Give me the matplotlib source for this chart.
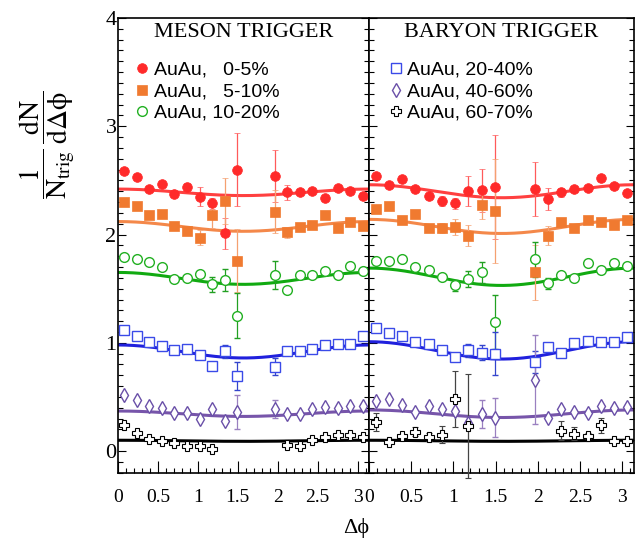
import numpy as np
import matplotlib.pyplot as plt
from matplotlib.ticker import MultipleLocator, FormatStrFormatter

plt.rcParams['font.family'] = ['Liberation Serif', 'DejaVu Serif']
plt.rcParams['mathtext.fontset'] = 'stix'

nan = np.nan

# delta-phi bin centres (20 bins on 0..pi)
dphi = [0.079, 0.236, 0.393, 0.550, 0.707, 0.864, 1.021, 1.178, 1.335, 1.492,
        1.649, 1.806, 1.963, 2.120, 2.277, 2.434, 2.592, 2.749, 2.906, 3.063]

labels = ['AuAu,   0-5%', 'AuAu,   5-10%', 'AuAu, 10-20%',
          'AuAu, 20-40%', 'AuAu, 40-60%', 'AuAu, 60-70%']

# ---- meson trigger ----
m_c0 = [2.59, 2.53, 2.42, 2.47, 2.37, 2.44, 2.35, 2.29, 2.01, 2.60, nan, nan, 2.54, 2.39, 2.39, 2.40, 2.34, 2.43, 2.40, 2.36]
m_c0_err = [0, 0, 0, 0, 0, 0.04, 0.09, 0.05, 0.14, 0.34, 0, 0, 0.24, 0.07, 0, 0, 0, 0, 0, 0]
m_c1 = [2.30, 2.26, 2.18, 2.19, 2.08, 2.03, 1.97, 2.18, 2.31, 1.76, nan, nan, 2.21, 2.02, 2.07, 2.09, 2.18, 2.06, 2.12, 2.08]
m_c1_err = [0, 0, 0, 0, 0, 0, 0.07, 0.12, 0.21, 0.29, 0, 0, 0.20, 0.05, 0, 0, 0, 0, 0, 0]
m_c2 = [1.79, 1.77, 1.75, 1.70, 1.59, 1.60, 1.64, 1.54, 1.58, 1.25, nan, nan, 1.63, 1.49, 1.63, 1.63, 1.66, 1.63, 1.71, 1.66]
m_c2_err = [0, 0, 0, 0, 0, 0, 0, 0.07, 0.10, 0.21, 0, 0, 0.13, 0, 0, 0, 0, 0, 0, 0]
m_c3 = [1.12, 1.06, 1.01, 0.97, 0.93, 0.94, 0.89, 0.79, 0.92, 0.69, nan, nan, 0.78, 0.92, 0.92, 0.94, 0.98, 0.99, 0.99, 1.06]
m_c3_err = [0, 0, 0, 0, 0, 0, 0, 0, 0.06, 0.13, 0, 0, 0.08, 0, 0, 0, 0, 0, 0, 0]
m_c4 = [0.52, 0.47, 0.42, 0.40, 0.35, 0.35, 0.30, 0.39, 0.28, 0.36, nan, nan, 0.39, 0.34, 0.34, 0.39, 0.41, 0.40, 0.42, 0.42]
m_c4_err = [0, 0, 0, 0, 0, 0, 0, 0, 0, 0.16, 0, 0, 0.08, 0, 0, 0, 0, 0, 0, 0]
m_c5 = [0.24, 0.17, 0.11, 0.09, 0.07, 0.05, 0.05, 0.02, nan, nan, nan, nan, nan, 0.06, 0.05, 0.10, 0.13, 0.15, 0.15, 0.13]
m_c5_err = [0] * 20

# ---- baryon trigger ----
b_c0 = [2.54, 2.46, 2.51, 2.42, 2.36, 2.31, 2.29, 2.40, 2.41, 2.44, nan, nan, 2.42, 2.33, 2.39, 2.42, 2.43, 2.52, 2.45, 2.38]
b_c0_err = [0, 0, 0, 0, 0, 0.05, 0.05, 0.14, 0.20, 0.48, 0, 0, 0.25, 0.10, 0.04, 0.03, 0, 0, 0, 0]
b_c1 = [2.24, 2.26, 2.13, 2.19, 2.06, 2.06, 2.07, 1.99, 2.27, 2.22, nan, nan, 1.65, 1.99, 2.12, 2.06, 2.13, 2.12, 2.09, 2.13]
b_c1_err = [0, 0, 0, 0, 0, 0.05, 0.07, 0.10, 0.13, 0.48, 0, 0, 0.25, 0.09, 0.03, 0.03, 0, 0, 0, 0]
b_c2 = [1.76, 1.76, 1.77, 1.70, 1.67, 1.61, 1.53, 1.59, 1.65, 1.19, nan, nan, 1.77, 1.55, 1.63, 1.60, 1.74, 1.67, 1.74, 1.71]
b_c2_err = [0, 0, 0, 0, 0, 0, 0.05, 0.07, 0.10, 0.25, 0, 0, 0.16, 0.05, 0, 0, 0, 0, 0, 0]
b_c3 = [1.14, 1.09, 1.06, 1.01, 0.99, 0.93, 0.87, 0.93, 0.91, 0.90, nan, nan, 0.82, 0.96, 0.91, 1.00, 1.02, 1.01, 1.01, 1.05]
b_c3_err = [0, 0, 0, 0, 0, 0, 0, 0.06, 0.07, 0.20, 0, 0, 0.10, 0, 0, 0, 0, 0, 0, 0]
b_c4 = [0.46, 0.48, 0.43, 0.36, 0.42, 0.39, 0.37, 0.26, 0.34, 0.31, nan, nan, 0.66, 0.31, 0.39, 0.36, 0.35, 0.42, 0.40, 0.41]
b_c4_err = [0, 0, 0, 0, 0, 0, 0, 0, 0.13, 0.18, 0, 0, 0.41, 0, 0, 0, 0, 0, 0, 0]
b_c5 = [0.27, 0.08, 0.14, 0.18, 0.13, 0.15, 0.48, 0.23, nan, nan, nan, nan, nan, nan, 0.19, 0.16, 0.14, 0.24, 0.09, 0.09]
b_c5_err = [0.08, 0, 0, 0.04, 0.04, 0.08, 0.26, 0.48, 0, 0, 0, 0, 0, 0, 0.09, 0.06, 0.03, 0.07, 0, 0]

# fit curves: value at dphi=0 (and pi) and at dphi=pi/2
m_fit_0 = [2.42, 2.12, 1.65, 0.98, 0.37, 0.10]
m_fit_90 = [2.36, 2.03, 1.54, 0.86, 0.32, 0.09]
b_fit_0 = [2.46, 2.14, 1.69, 1.01, 0.38, 0.10]
b_fit_90 = [2.34, 2.01, 1.53, 0.85, 0.31, 0.09]

# styles
mk = ['o', 's', 'o', 's', 'd', 'P']
ms = [7, 6.5, 7, 7.5, 7.5, 7.5]
mcol = ['#ff2a2a', '#f07a30', '#22b022', '#3a4ae8', '#6a50a8', '#000000']
filled = [True, True, False, False, False, False]
mews = [0.5, 0.5, 1.0, 1.0, 1.0, 0.8]
ecol = ['#ff5a5a', '#f5a070', '#22a022', '#3344cc', '#9a80c0', '#444444']
lcol = ['#ff4040', '#f4884a', '#11aa11', '#2020dd', '#7755aa', '#000000']

fig = plt.figure(figsize=(6.37, 5.46), dpi=100)
axL = fig.add_axes([0.1852, 0.1342, 0.3940, 0.8328])
axR = fig.add_axes([0.5793, 0.1342, 0.4160, 0.8328])

xf = np.linspace(0, np.pi, 200)

panels = [
    (axL, [m_c0, m_c1, m_c2, m_c3, m_c4, m_c5],
     [m_c0_err, m_c1_err, m_c2_err, m_c3_err, m_c4_err, m_c5_err],
     m_fit_0, m_fit_90, 'MESON TRIGGER', [0, 1, 2], 0.072),
    (axR, [b_c0, b_c1, b_c2, b_c3, b_c4, b_c5],
     [b_c0_err, b_c1_err, b_c2_err, b_c3_err, b_c4_err, b_c5_err],
     b_fit_0, b_fit_90, 'BARYON TRIGGER', [3, 4, 5], 0.079),
]

for ax, ys, errs, f0, f90, title, leg_idx, leg_x in panels:
    handles = []
    for i in range(6):
        c = (f0[i] + f90[i]) / 2
        a = (f0[i] - f90[i]) / 2
        ax.plot(xf, c + a * np.cos(2 * xf), color=lcol[i], lw=2.2, zorder=2)
        err = np.array(errs[i], dtype=float)
        err = np.where(err > 0, err, np.nan)
        cont = ax.errorbar(dphi, ys[i], yerr=err, fmt=mk[i], ms=ms[i],
                           mfc=mcol[i] if filled[i] else 'white',
                           mec=mcol[i], mew=mews[i],
                           ecolor=ecol[i], elinewidth=0.9, capsize=2.2,
                           capthick=0.9, zorder=3, clip_on=False)
        handles.append(cont[0])
    # legend for this panel's three series
    hs = [handles[i] for i in leg_idx]
    ls = [labels[i] for i in leg_idx]
    ax.legend(hs, ls, loc='upper left', bbox_to_anchor=(leg_x, 0.905),
              frameon=False, handlelength=0.6, handletextpad=0.3,
              borderpad=0, borderaxespad=0, labelspacing=0.2,
              prop={'family': 'Liberation Sans', 'size': 14})
    ax.text(0.5, 0.968, title, transform=ax.transAxes, ha='center',
            va='center', fontsize=16)

    ax.set_xlim(0, np.pi)
    ax.set_ylim(-0.2, 4)
    ax.xaxis.set_major_locator(MultipleLocator(0.5))
    ax.xaxis.set_minor_locator(MultipleLocator(0.1))
    ax.xaxis.set_major_formatter(FormatStrFormatter('%g'))
    ax.yaxis.set_major_locator(MultipleLocator(1))
    ax.yaxis.set_minor_locator(MultipleLocator(0.1))
    ax.tick_params(which='both', direction='in', left=True, right=True,
                   top=False, bottom=True)
    ax.tick_params(axis='x', which='major', length=9, width=0.8,
                   labelsize=14, pad=12)
    ax.tick_params(axis='x', which='minor', length=3.5, width=0.8)
    ax.tick_params(axis='y', which='major', length=6, width=0.8,
                   labelsize=16, pad=1)
    ax.tick_params(axis='y', which='minor', length=3.5, width=0.8)
    for s in ax.spines.values():
        s.set_linewidth(1.2)

axR.tick_params(labelleft=False)

fig.text(0.075, 1 - 145 / 546,
         r'$\dfrac{1}{\mathrm{N_{trig}}}\,\dfrac{\mathrm{dN}}{\mathrm{d\Delta ϕ}}$',
         rotation=90, ha='center', va='center', fontsize=20)
fig.text(356 / 637, 1 - 528 / 546, 'Δϕ', ha='center', va='center',
         fontsize=16)

fig.savefig('out.png', dpi=100)
